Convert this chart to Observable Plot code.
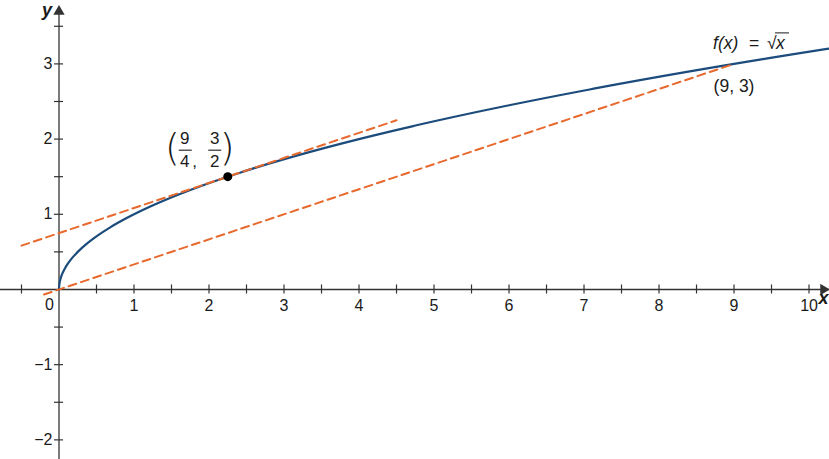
<!DOCTYPE html>
<html><head><meta charset="utf-8">
<script src="https://cdn.jsdelivr.net/npm/d3@7"></script>
<script src="https://cdn.jsdelivr.net/npm/@observablehq/plot@0.6"></script>
<style>body{margin:0;background:#fff}svg{display:block}</style>
</head><body><div id="chart"></div>
<script>
// ---- data ----
const xDomain = [-0.78, 10.273];
const yDomain = [-2.261, 3.843];
const xTicks = [-0.5, 0.5, 1, 1.5, 2, 2.5, 3, 3.5, 4, 4.5, 5, 5.5, 6, 6.5, 7, 7.5, 8, 8.5, 9, 9.5, 10];
const yTicks = [-2, -1.5, -1, -0.5, 0.5, 1, 1.5, 2, 2.5, 3, 3.5];
const xTickLabels = [1, 2, 3, 4, 5, 6, 7, 8, 9, 10];
const yTickLabels = [-2, -1, 1, 2, 3];
const tangentPoint = {x: 9 / 4, y: 3 / 2};
const secantPoint = {x: 9, y: 3};
const tangentRange = [-0.5, 4.5];
const secantRange = [-0.2, 9];
const curveMaxX = 10.4;

// f(x) = sqrt(x)
const f = Math.sqrt;
const curve = d3.range(0, Math.sqrt(curveMaxX) + 0.005, 0.01).map(t => ({x: t * t, y: f(t * t)}));
const tSlope = 1 / (2 * f(tangentPoint.x));
const tangent = tangentRange.map(x => ({x, y: tangentPoint.y + tSlope * (x - tangentPoint.x)}));
const sSlope = secantPoint.y / secantPoint.x;
const secant = secantRange.map(x => ({x, y: sSlope * x}));

const W = 829, H = 459;
const PX = (xDomain[1] - xDomain[0]) / W;   // data units per pixel (x)
const PY = (yDomain[1] - yDomain[0]) / H;   // data units per pixel (y)
const tkY = 4.5 * PY, tkX = 4.5 * PX;

const axisColor = "#333";
const blue = "#1c4c7c";
const orange = "#e8692d";
const ink = "#1a1a1a";
const font = "Liberation Sans, Arial, sans-serif";
const minus = v => v < 0 ? "\u2212" + Math.abs(v) : String(v);

const tp = [tangentPoint];
const sp = [secantPoint];

const chart = Plot.plot({
  width: W, height: H, margin: 0,
  x: {domain: xDomain, axis: null},
  y: {domain: yDomain, axis: null},
  style: {fontFamily: font, background: "#fff"},
  marks: [
    // axes
    Plot.ruleY([0], {stroke: axisColor, strokeWidth: 1.3}),
    Plot.ruleX([0], {stroke: axisColor, strokeWidth: 1.3, y1: yDomain[0], y2: yDomain[1] - 8 * PY}),
    Plot.ruleX(xTicks, {y1: -tkY, y2: tkY, stroke: axisColor, strokeWidth: 1.2}),
    Plot.ruleY(yTicks, {x1: -tkX, x2: tkX, stroke: axisColor, strokeWidth: 1.2}),
    Plot.dot([{x: xDomain[1], y: 0}], {x: "x", y: "y", symbol: "triangle", rotate: 90, r: 4.2, fill: axisColor, stroke: "none", dx: -6}),
    Plot.dot([{x: 0, y: yDomain[1]}], {x: "x", y: "y", symbol: "triangle", r: 4.2, fill: axisColor, stroke: "none", dy: 11}),
    // tick labels
    Plot.text(xTickLabels, {x: d => d, y: 0, text: d => String(d), dy: 16, fontSize: 16, fill: ink}),
    Plot.text([0], {x: 0, y: 0, text: ["0"], dx: -9.5, dy: 15, fontSize: 16, fill: ink}),
    Plot.text(yTickLabels, {x: 0, y: d => d, text: minus, dx: -6.5, textAnchor: "end", fontSize: 16, fill: ink}),
    // axis labels
    Plot.text(["y"], {x: 0, y: yDomain[1], text: d => d, dx: -12, dy: 10, fontSize: 18, fontWeight: "bold", fontStyle: "italic", fill: ink}),
    Plot.text(["x"], {x: xDomain[1], y: 0, text: d => d, dx: -6, dy: 9, fontSize: 18, fontWeight: "bold", fontStyle: "italic", fill: ink}),
    // curve and lines
    Plot.line(curve, {x: "x", y: "y", stroke: blue, strokeWidth: 2.2}),
    Plot.line(tangent, {x: "x", y: "y", stroke: orange, strokeWidth: 2, strokeDasharray: "8,5"}),
    Plot.line(secant, {x: "x", y: "y", stroke: orange, strokeWidth: 2, strokeDasharray: "8,5"}),
    Plot.dot(tp, {x: "x", y: "y", r: 4.5, fill: "#000", stroke: "none"}),
    // (9/4, 3/2) label
    Plot.text(tp, {x: "x", y: "y", text: () => "(", dx: -48, dy: -29, textAnchor: "end", fontSize: 38, fontFamily: "DejaVu Sans", fontWeight: 200, fill: ink}),
    Plot.text(tp, {x: "x", y: "y", text: () => ")", dx: -8, dy: -29, textAnchor: "start", fontSize: 38, fontFamily: "DejaVu Sans", fontWeight: 200, fill: ink}),
    Plot.text(tp, {x: "x", y: "y", text: () => "9", dx: -43, dy: -38, fontSize: 17, fill: ink}),
    Plot.text(tp, {x: "x", y: "y", text: () => "4", dx: -43, dy: -15.5, fontSize: 17, fill: ink}),
    Plot.text(tp, {x: "x", y: "y", text: () => ",", dx: -35.5, dy: -15.5, textAnchor: "start", fontSize: 17, fill: ink}),
    Plot.text(tp, {x: "x", y: "y", text: () => "3", dx: -13, dy: -38, fontSize: 17, fill: ink}),
    Plot.text(tp, {x: "x", y: "y", text: () => "2", dx: -13, dy: -15.5, fontSize: 17, fill: ink}),
    Plot.link(tp, {x1: d => d.x - 49 * PX, x2: d => d.x - 36 * PX, y1: "y", y2: "y", dy: -26.5, stroke: ink, strokeWidth: 1.1}),
    Plot.link(tp, {x1: d => d.x - 19.5 * PX, x2: d => d.x - 6.5 * PX, y1: "y", y2: "y", dy: -26.5, stroke: ink, strokeWidth: 1.1}),
    // f(x) = sqrt(x) label
    Plot.text(sp, {x: "x", y: "y", text: () => "f(x)", dx: -21, dy: -20.5, textAnchor: "start", fontSize: 17.5, fontStyle: "italic", fill: ink}),
    Plot.text(sp, {x: "x", y: "y", text: () => "=", dx: 20, dy: -21, fontSize: 17.5, fill: ink}),
    Plot.text(sp, {x: "x", y: "y", text: () => "\u221A", dx: 33, dy: -21, textAnchor: "start", fontSize: 17.5, fill: ink}),
    Plot.text(sp, {x: "x", y: "y", text: () => "x", dx: 42, dy: -20.5, textAnchor: "start", fontSize: 17.5, fontStyle: "italic", fill: ink}),
    Plot.link(sp, {x1: d => d.x + 41 * PX, x2: d => d.x + 55 * PX, y1: "y", y2: "y", dy: -31, stroke: ink, strokeWidth: 1}),
    Plot.text(sp, {x: "x", y: "y", text: () => "(9, 3)", dx: 0, dy: 22, fontSize: 17.5, fill: ink})
  ]
});
document.getElementById("chart").appendChild(chart);
</script>
</body></html>
